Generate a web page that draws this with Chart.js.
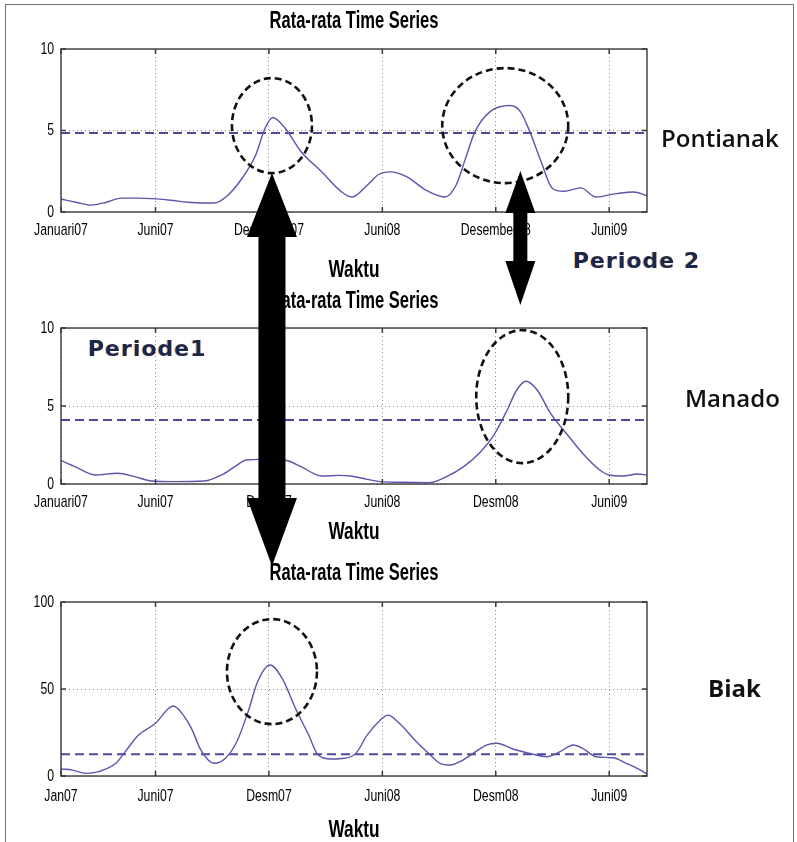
<!DOCTYPE html>
<html>
<head>
<meta charset="utf-8">
<script src="https://cdn.jsdelivr.net/npm/chart.js@4.4.1/dist/chart.umd.min.js"></script>
<style>
  html, body { margin: 0; padding: 0; background: #fff; overflow: hidden; }
  #page { position: relative; width: 797px; height: 842px; }
  #page canvas { position: absolute; left: 0; top: 0; }
  .frame { position: absolute; left: 5px; top: 4px; width: 789px; height: 900px;
           border: 1.5px solid #707070; box-sizing: border-box; }
  .city { position: absolute; font-family: 'Open Sans', 'Noto Sans', sans-serif; font-size: 24px;
          font-weight: 600; line-height: 24px; color: #111; white-space: nowrap; }
  .periode { position: absolute; font-family: 'DejaVu Sans', Verdana, sans-serif; font-weight: bold;
             font-size: 22px; line-height: 22px; color: #1a2850; letter-spacing: 1px;
             text-shadow: -1px 0 0 rgba(225, 140, 40, 0.55); white-space: nowrap; }
</style>
</head>
<body>
<div id="page">
  <div class="frame"></div>
  <canvas id="c1" width="797" height="842"></canvas>
  <canvas id="c2" width="797" height="842"></canvas>
  <canvas id="c3" width="797" height="842"></canvas>
  <canvas id="arrows" width="797" height="842"></canvas>
  <div class="city" style="left:661px;top:126px;">Pontianak</div>
  <div class="city" style="left:685px;top:386px;">Manado</div>
  <div class="city" style="left:708px;top:676px;font-weight:bold;">Biak</div>
  <div class="periode" style="left:573px;top:250px;">Periode 2</div>
  <div class="periode" style="left:88px;top:338px;">Periode1</div>
</div>
<script>
// Months counted from January 2007 (0 = Januari07)
const tickMonths = [0, 5, 11, 17, 23, 29];
const pontianakTickLabels = ['Januari07', 'Juni07', 'Desember07', 'Juni08', 'Desember08', 'Juni09'];
const manadoTickLabels = ['Januari07', 'Juni07', 'Desm07', 'Juni08', 'Desm08', 'Juni09'];
const biakTickLabels = ['Jan07', 'Juni07', 'Desm07', 'Juni08', 'Desm08', 'Juni09'];

// Pontianak monthly-average series
const pontianakMonths = [0, 0.8, 1.6, 2.4, 3.2, 4.0, 4.8, 5.8, 6.7, 7.5, 8.1, 8.8, 9.6, 10.3, 10.8, 11.2, 11.85,
  12.7, 13.8, 14.85, 15.4, 16.2, 16.8, 17.4, 18.3, 19.3, 20.3, 20.9, 21.4, 21.9, 22.7, 23.75, 24.3, 24.8,
  25.4, 26.0, 26.6, 27.5, 28.3, 29.4, 30.3, 31];
const pontianakValues = [0.8, 0.6, 0.42, 0.6, 0.85, 0.85, 0.82, 0.72, 0.6, 0.55, 0.55, 1.0, 2.1, 3.5, 5.15, 5.8, 5.15,
  3.7, 2.46, 1.23, 0.92, 1.64, 2.3, 2.46, 2.16, 1.34, 0.92, 1.64, 3.29, 4.93, 6.16, 6.53, 6.16, 4.93,
  3.08, 1.44, 1.27, 1.48, 0.92, 1.13, 1.23, 1.0];
const pontianakMean = 4.85;

// Manado monthly-average series
const manadoMonths = [0, 0.74, 1.8, 3.0, 3.9, 4.8, 5.9, 7.6, 8.5, 9.2, 9.8, 10.6, 11.4, 12.0, 12.7, 13.8, 14.7,
  15.3, 16.2, 16.9, 17.9, 19.5, 20.4, 21.3, 22.2, 22.9, 23.6, 24.1, 24.6, 25.2, 25.9, 26.8, 27.6, 28.5,
  29.0, 29.75, 30.5, 31];
const manadoValues = [1.5, 1.11, 0.58, 0.69, 0.47, 0.19, 0.15, 0.19, 0.58, 1.11, 1.54, 1.58, 1.56, 1.49, 1.11, 0.51, 0.55,
  0.51, 0.30, 0.15, 0.11, 0.09, 0.47, 1.11, 2.07, 3.14, 4.73, 6.01, 6.59, 6.01, 4.52, 3.14, 1.96, 0.9,
  0.58, 0.51, 0.64, 0.58];
const manadoMean = 4.1;

// Biak monthly-average series
const biakMonths = [0, 0.6, 1.3, 2.0, 2.9, 3.4, 4.1, 5.0, 5.7, 5.95, 6.4, 6.9, 7.4, 8.1, 8.7, 9.3, 9.9, 10.4, 11.06,
  11.7, 12.4, 13.1, 13.6, 14.3, 15.0, 15.6, 16.2, 16.9, 17.3, 17.9, 18.8, 19.5, 20.05, 20.6, 21.1, 21.8,
  22.5, 23.05, 23.9, 24.8, 25.7, 26.4, 27.1, 27.6, 28.3, 29.2, 29.9, 30.8, 31];
const biakValues = [4, 3.4, 1.5, 2.5, 7.3, 14, 23.6, 30.3, 38.9, 40.2, 36, 27.4, 14.9, 7.3, 10.2, 19.7, 37, 54.2, 63.8,
  56.1, 38.9, 23.6, 12.1, 9.8, 10.2, 13, 23.6, 32.2, 35, 30.3, 19.7, 12.5, 7.3, 6.3, 8.2, 13,
  17.8, 18.8, 15.5, 13, 11.1, 14, 17.8, 15.9, 11.1, 10.5, 7.3, 2.5, 1.0];
const biakMean = 12.5;

const plotFont = "'Liberation Sans', Arial, sans-serif";
const textCondense = 0.72;

// Condensed lettering: every text drawn on a panel canvas is squeezed
// horizontally around its anchor point, so alignment is kept.
function condenseText(canvas, k) {
  const ctx = canvas.getContext('2d');
  const fill = ctx.fillText.bind(ctx);
  ctx.fillText = function (text, x, y, maxWidth) {
    ctx.save();
    ctx.translate(x, y);
    ctx.scale(k, 1);
    if (maxWidth !== undefined) fill(text, 0, 0, maxWidth / k); else fill(text, 0, 0);
    ctx.restore();
  };
}

// Plot frame, MATLAB-style inward tick marks and dashed highlight ellipses
const panelDecor = {
  id: 'panelDecor',
  afterDatasetsDraw(chart, args, opts) {
    const { ctx, chartArea: a, scales } = chart;
    ctx.save();
    ctx.strokeStyle = '#111';
    ctx.lineWidth = 2.6;
    ctx.setLineDash([7, 4]);
    (opts.ellipses || []).forEach(e => {
      const cx = scales.x.getPixelForValue(e.x);
      const cy = scales.y.getPixelForValue(e.y);
      ctx.beginPath();
      ctx.ellipse(cx, cy, e.rx, e.ry, 0, 0, Math.PI * 2);
      ctx.stroke();
    });
    ctx.setLineDash([]);
    ctx.strokeStyle = '#3a3a3a';
    ctx.lineWidth = 1.4;
    ctx.strokeRect(a.left, a.top, a.right - a.left, a.bottom - a.top);
    ctx.lineWidth = 1.5;
    ctx.beginPath();
    scales.x.ticks.forEach(t => {
      const x = scales.x.getPixelForValue(t.value);
      ctx.moveTo(x, a.bottom); ctx.lineTo(x, a.bottom - 5);
      ctx.moveTo(x, a.top); ctx.lineTo(x, a.top + 5);
    });
    scales.y.ticks.forEach(t => {
      const y = scales.y.getPixelForValue(t.value);
      ctx.moveTo(a.left, y); ctx.lineTo(a.left + 5, y);
      ctx.moveTo(a.right, y); ctx.lineTo(a.right - 5, y);
    });
    ctx.stroke();
    ctx.restore();
  }
};

function makePanel(id, months, values, mean, yMax, yStep, tickLabels, lay, ellipses) {
  const canvas = document.getElementById(id);
  condenseText(canvas, textCondense);
  const series = months.map((m, i) => ({ x: m, y: values[i] }));
  const meanLine = [{ x: 0, y: mean }, { x: 31, y: mean }];
  return new Chart(canvas, {
    type: 'line',
    data: {
      datasets: [
        { data: series, borderColor: '#5b55ab', borderWidth: 1.4, pointRadius: 0,
          cubicInterpolationMode: 'monotone', fill: false },
        { data: meanLine, borderColor: '#4b4a9e', borderWidth: 2, borderDash: [9, 5],
          pointRadius: 0, fill: false }
      ]
    },
    options: {
      responsive: false,
      animation: false,
      events: [],
      layout: { padding: { top: lay.padTop, bottom: lay.padBottom, left: 0, right: 150 } },
      plugins: {
        legend: { display: false },
        tooltip: { enabled: false },
        title: {
          display: true, text: 'Rata-rata Time Series', fullSize: false, color: '#000',
          font: { family: plotFont, size: 23, weight: 'bold', lineHeight: 1 },
          padding: { top: 0, bottom: lay.titlePB }
        },
        panelDecor: { ellipses }
      },
      scales: {
        x: {
          type: 'linear', min: 0, max: 31,
          afterBuildTicks: s => { s.ticks = tickMonths.map(v => ({ value: v })); },
          afterFit: s => { s.height = lay.axisH; },
          ticks: {
            autoSkip: false, maxRotation: 0, padding: lay.tickPad, color: '#000',
            font: { family: plotFont, size: 17, lineHeight: 1 },
            callback: (v, i) => tickLabels[i]
          },
          grid: { color: 'rgba(60,60,60,0.6)', lineWidth: 1, drawTicks: false },
          border: { display: false, dash: [1, 3] },
          title: {
            display: true, text: 'Waktu', color: '#000',
            font: { family: plotFont, size: 24, weight: 'bold', lineHeight: 1 },
            padding: { top: 0, bottom: lay.waktuPB }
          }
        },
        y: {
          min: 0, max: yMax,
          afterFit: s => { s.width = 61; },
          ticks: { stepSize: yStep, padding: 7, color: '#000',
                   font: { family: plotFont, size: 17, lineHeight: 1 } },
          grid: { color: 'rgba(60,60,60,0.6)', lineWidth: 1, drawTicks: false },
          border: { display: false, dash: [1, 3] }
        }
      }
    },
    plugins: [panelDecor]
  });
}

const chartPontianak = makePanel('c1', pontianakMonths, pontianakValues, pontianakMean, 10, 5, pontianakTickLabels,
  { padTop: 10, titlePB: 16, tickPad: 10, axisH: 78, padBottom: 552, waktuPB: 8 },
  [{ x: 11.16, y: 5.3, rx: 40, ry: 47.5 }, { x: 23.5, y: 5.3, rx: 63, ry: 57.5 }]);

const chartManado = makePanel('c2', manadoMonths, manadoValues, manadoMean, 10, 5, manadoTickLabels,
  { padTop: 290, titlePB: 15, tickPad: 10, axisH: 76, padBottom: 282, waktuPB: 16 },
  [{ x: 24.4, y: 5.6, rx: 46, ry: 66.5 }]);

const chartBiak = makePanel('c3', biakMonths, biakValues, biakMean, 100, 50, biakTickLabels,
  { padTop: 562, titlePB: 17, tickPad: 12, axisH: 66, padBottom: 0, waktuPB: 0 },
  [{ x: 11.16, y: 60, rx: 45, ry: 52.5 }]);

// Double-headed arrows linking the peak periods between panels
function doubleArrow(ctx, x, yTop, yBottom, headTop, headBottom, headHalf, shaftHalf) {
  ctx.beginPath();
  ctx.moveTo(x, yTop);
  ctx.lineTo(x + headHalf, yTop + headTop);
  ctx.lineTo(x + shaftHalf, yTop + headTop);
  ctx.lineTo(x + shaftHalf, yBottom - headBottom);
  ctx.lineTo(x + headHalf, yBottom - headBottom);
  ctx.lineTo(x, yBottom);
  ctx.lineTo(x - headHalf, yBottom - headBottom);
  ctx.lineTo(x - shaftHalf, yBottom - headBottom);
  ctx.lineTo(x - shaftHalf, yTop + headTop);
  ctx.lineTo(x - headHalf, yTop + headTop);
  ctx.closePath();
  ctx.fill();
}
const actx = document.getElementById('arrows').getContext('2d');
actx.fillStyle = '#000';
const xs = chartPontianak.scales.x, ys = chartPontianak.scales.y;
doubleArrow(actx, xs.getPixelForValue(11.16), ys.getPixelForValue(5.3) + 47.5, 566, 64, 68, 25, 13.5);
doubleArrow(actx, xs.getPixelForValue(24.3), 171, 305, 42, 44, 15, 7);
</script>
</body>
</html>
